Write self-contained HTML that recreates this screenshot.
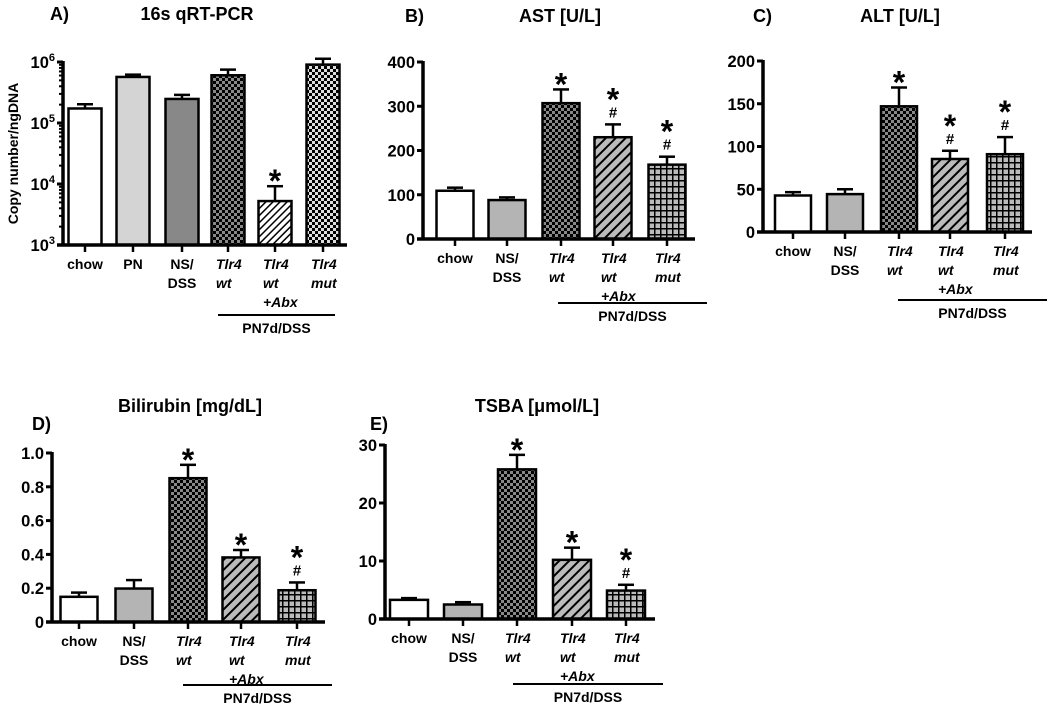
<!DOCTYPE html>
<html><head><meta charset="utf-8"><style>
html,body{margin:0;padding:0;background:#fff}
svg{display:block}
text{font-family:"Liberation Sans",sans-serif;font-weight:bold;fill:#000}
</style></head><body>
<svg id="fig" width="1050" height="710" viewBox="0 0 1050 710" xmlns="http://www.w3.org/2000/svg">
<defs>
<pattern id="pChkDark" width="6" height="6" patternUnits="userSpaceOnUse"><rect width="6" height="6" fill="#888"/><rect width="3" height="3" fill="#000"/><rect x="3" y="3" width="3" height="3" fill="#000"/></pattern>
<pattern id="pChkLight" width="6" height="6" patternUnits="userSpaceOnUse"><rect width="6" height="6" fill="#ddd"/><rect width="3" height="3" fill="#000"/><rect x="3" y="3" width="3" height="3" fill="#000"/></pattern>
<pattern id="pHatchGray" width="7" height="7" patternUnits="userSpaceOnUse" patternTransform="rotate(45)"><rect width="7" height="7" fill="#bbb"/><rect width="2" height="7" fill="#000"/></pattern>
<pattern id="pHatchWhite" width="5" height="5" patternUnits="userSpaceOnUse" patternTransform="rotate(45)"><rect width="5" height="5" fill="#fff"/><rect width="1.5" height="5" fill="#000"/></pattern>
<pattern id="pGrid" width="6" height="6" patternUnits="userSpaceOnUse"><rect width="6" height="6" fill="#bbb"/><rect width="1.5" height="6" fill="#000"/><rect width="6" height="1.5" fill="#000"/></pattern>
</defs>
</svg>
<script>
// ---- data ----
const catsA = ["chow","PN","NS/|DSS","Tlr4|wt","Tlr4|wt|+Abx","Tlr4|mut"];
const valsA = [1.73e5, 5.69e5, 2.48e5, 6.06e5, 5.25e3, 9.06e5];
const errA  = [2.03e5, 6.2e5, 2.89e5, 7.5e5, 9.2e3, 1.13e6];
const marksA = ["","","","","*",""];
const ticksA = [3,4,5,6];

const catsBE = ["chow","NS/|DSS","Tlr4|wt","Tlr4|wt|+Abx","Tlr4|mut"];
const valsB = [109, 88, 307, 230, 168];
const errB  = [116, 94, 338, 259, 186];
const marksB = ["","","*","*#","*#"];
const ticksB = [0,100,200,300,400];

const valsC = [42.7, 44.3, 147, 85.4, 91];
const errC  = [46.6, 50, 169, 95, 111];
const marksC = ["","","*","*#","*#"];
const ticksC = [0,50,100,150,200];

const valsD = [0.149, 0.198, 0.851, 0.382, 0.188];
const errD  = [0.174, 0.248, 0.93, 0.426, 0.234];
const marksD = ["","","*","*","*#"];
const ticksD = [0,0.2,0.4,0.6,0.8,1.0];
const tickLabD = ["0","0.2","0.4","0.6","0.8","1.0"];

const valsE = [3.3, 2.5, 25.8, 10.2, 4.9];
const errE  = [3.6, 2.9, 28.3, 12.3, 5.9];
const marksE = ["","","*","*","*#"];
const ticksE = [0,10,20,30];

// ---- drawing ----
const svg = document.getElementById('fig');
const NS = 'http://www.w3.org/2000/svg';
function mk(tag, attrs, parent){ const e=document.createElementNS(NS,tag); for(const k in attrs) e.setAttribute(k,attrs[k]); (parent||svg).appendChild(e); return e; }

function panel(o){
  const g = mk('g',{});
  
  
  const y = v => o.log ? o.y0 - (Math.log10(v)-o.min)/(o.max-o.min)*(o.y0-o.y1) : o.y0 - (v-o.min)/(o.max-o.min)*(o.y0-o.y1);
  const t = mk('text',{x:o.tx,y:o.ty,'text-anchor':'middle','font-size':18},g); t.textContent=o.title;
  
  
  const l = mk('text',{x:o.lx,y:o.ly,'font-size':18},g); l.textContent=o.letter;
  
  
  o.vals.forEach((v,i)=>{
    const cx=o.cx[i], w=o.bw;
    const top=y(v), et=y(o.err[i]);
    const eb = mk('line',{x1:cx,x2:cx,y1:top,y2:et,stroke:'#000','stroke-width':2.5},g);
    
    
    mk('line',{x1:cx-8,x2:cx+8,y1:et,y2:et,stroke:'#000','stroke-width':2.5},g);
    const r = mk('rect',{x:cx-w/2,y:top,width:w,height:o.y0-top,fill:o.fills[i],stroke:'#000','stroke-width':2.5},g);
    
    
    const m=o.marks[i];
    if(m){
      let yy=et-7;
      if(m.includes('#')){ const h=mk('text',{x:cx,y:yy,'text-anchor':'middle','font-size':15},g); h.textContent='#';   yy-=20; }
      const s=mk('text',{x:cx,y:yy+13,'text-anchor':'middle','font-size':32},g); s.textContent='*';
      
      
    }
    mk('line',{x1:cx,x2:cx,y1:o.y0,y2:o.y0+7,stroke:'#000','stroke-width':2.5},g);
    const parts=o.cats[i].split('|');
    const ital = parts[0]==='Tlr4';
    parts.forEach((p,j)=>{
      const tt=mk('text',{x: ital? cx-12 : cx, y:o.y0+24+j*19,'text-anchor': ital?'start':'middle','font-size':14,'font-style': ital?'italic':'normal'},g);
      tt.textContent=p;
      
      
    });
  });
  const ya=mk('line',{x1:o.ax,x2:o.ax,y1:o.y1-1,y2:o.y0+1.5,stroke:'#000','stroke-width':3.5},g);
  
  
  const xa=mk('line',{x1:o.ax-6,x2:o.xend,y1:o.y0,y2:o.y0,stroke:'#000','stroke-width':3.5},g);
  
  
  o.ticks.forEach((tv,i)=>{
    const yy = o.log ? y(Math.pow(10,tv)) : y(tv);
    mk('line',{x1:o.ax-6,x2:o.ax,y1:yy,y2:yy,stroke:'#000','stroke-width':3},g);
    const tl=mk('text',{x:o.ax-8,y:yy+6,'text-anchor':'end','font-size':16.5},g);
    if(o.log){ tl.textContent='10'; const sp=mk('tspan',{dy:-7,'font-size':11},tl); sp.textContent=String(tv); }
    else tl.textContent = o.tickLab ? o.tickLab[i] : String(tv);
    
    
  });
  if(o.log){
    for(let d=o.min; d<o.max; d++) for(let k=2;k<=9;k++){
      const yy=y(k*Math.pow(10,d));
      mk('line',{x1:o.ax-4,x2:o.ax,y1:yy,y2:yy,stroke:'#000','stroke-width':2},g);
    }
  }
  const ul=mk('line',{x1:o.ux1,x2:o.ux2,y1:o.uy,y2:o.uy,stroke:'#000','stroke-width':2},g);
  
  
  const gl=mk('text',{x:(o.ux1+o.ux2)/2,y:o.uy+18,'text-anchor':'middle','font-size':14},g); gl.textContent='PN7d/DSS';
  
  
  if(o.ylabel){
    const yl=mk('text',{x:0,y:0,'text-anchor':'middle','font-size':14,transform:`translate(18,${(o.y0+o.y1)/2}) rotate(-90)`},g);
    yl.textContent=o.ylabel;
    
    
  }
}
const fA=['#fff','#d4d4d4','#888','url(#pChkDark)','url(#pHatchWhite)','url(#pChkLight)'];
const fBE=['#fff','#b4b4b4','url(#pChkDark)','url(#pHatchGray)','url(#pGrid)'];

panel({name:'panel-a-16s-qrtpcr',title:'16s qRT-PCR',letter:'A)',tx:197,ty:20,lx:50,ly:20,log:true,min:3,max:6,
  y0:245,y1:62,ax:63,xend:347,cx:[85,133,182,228,275,323],bw:33,cats:catsA,vals:valsA,err:errA,marks:marksA,ticks:ticksA,fills:fA,
  ux1:218,ux2:335,uy:315,ylabel:'Copy number/ngDNA'});
panel({name:'panel-b-ast',title:'AST [U/L]',letter:'B)',tx:560,ty:22,lx:405,ly:22,min:0,max:400,
  y0:239,y1:62,ax:423,xend:695,cx:[455,507,561,613,667],bw:37,cats:catsBE,vals:valsB,err:errB,marks:marksB,ticks:ticksB,fills:fBE,
  ux1:558,ux2:707,uy:303});
panel({name:'panel-c-alt',title:'ALT [U/L]',letter:'C)',tx:900,ty:22,lx:753,ly:22,min:0,max:200,
  y0:232,y1:61,ax:763,xend:1032,cx:[793,845,899,950,1005],bw:36,cats:catsBE,vals:valsC,err:errC,marks:marksC,ticks:ticksC,fills:fBE,
  ux1:898,ux2:1047,uy:300});
panel({name:'panel-d-bilirubin',title:'Bilirubin [mg/dL]',letter:'D)',tx:190,ty:412,lx:32,ly:430,min:0,max:1,
  y0:622,y1:453,ax:52,xend:325,cx:[79,134,188,241,297],bw:37,cats:catsBE,vals:valsD,err:errD,marks:marksD,ticks:ticksD,tickLab:tickLabD,fills:fBE,
  ux1:183,ux2:332,uy:685});
panel({name:'panel-e-tsba',title:'TSBA [\u03bcmol/L]',letter:'E)',tx:537,ty:412,lx:370,ly:430,min:0,max:30,
  y0:619,y1:445,ax:385,xend:655,cx:[409,463,517,572,626],bw:38,cats:catsBE,vals:valsE,err:errE,marks:marksE,ticks:ticksE,fills:fBE,
  ux1:513,ux2:663,uy:684});
</script>
</body></html>
